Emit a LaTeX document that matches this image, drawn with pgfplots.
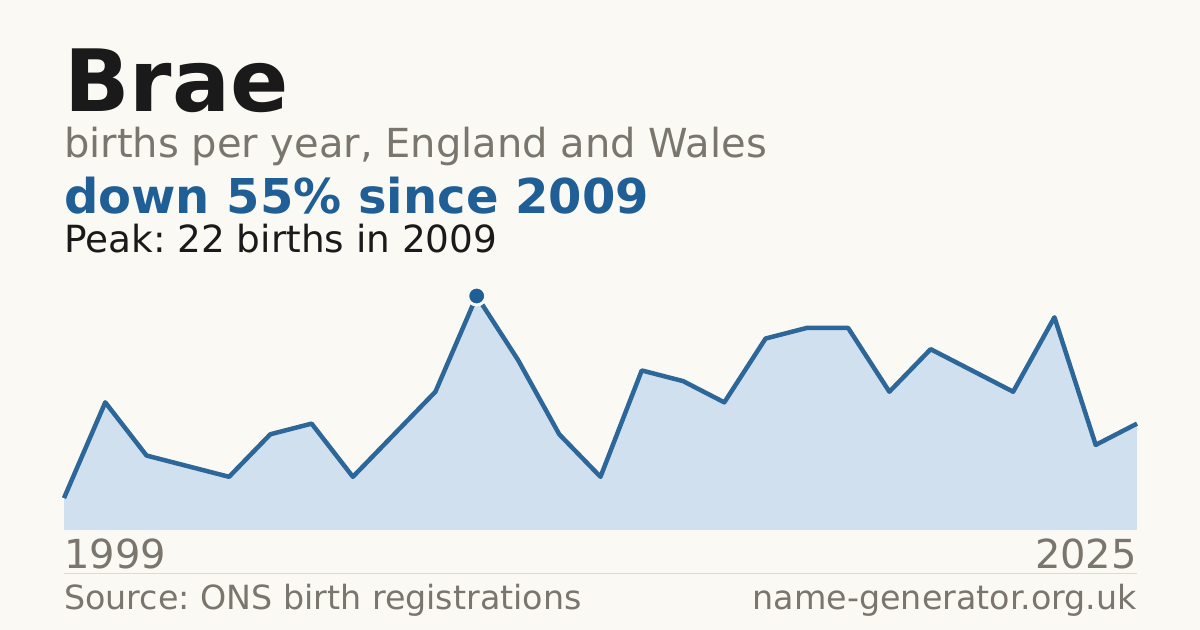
\documentclass[border=0pt]{standalone}
\usepackage{pgfplots}
\pgfplotsset{compat=1.18}
\usepackage{fontspec}
\setmainfont{DejaVu Sans}
\frenchspacing
\definecolor{bg}{HTML}{FAF9F4}
\definecolor{titlec}{HTML}{1A1A1A}
\definecolor{greyc}{HTML}{7A756D}
\definecolor{bluec}{HTML}{1F5F96}
\definecolor{linec}{HTML}{2D6799}
\definecolor{fillc}{HTML}{D0E0EF}
\definecolor{sepc}{HTML}{DDDAD2}
\begin{document}
\begin{tikzpicture}
\fill[bg] (0bp,0bp) rectangle (1200bp,630bp);
\node[anchor=base west,inner sep=0,text=titlec] at (64bp,518bp) {\fontsize{86bp}{96bp}\selectfont\bfseries Brae};
\node[anchor=base west,inner sep=0,text=greyc] at (64bp,472bp) {\fontsize{40bp}{48bp}\selectfont births per year, England and Wales};
\node[anchor=base west,inner sep=0,text=bluec] at (64bp,416bp) {\fontsize{48bp}{56bp}\selectfont\bfseries down 55\% since 2009};
\node[anchor=base west,inner sep=0,text=titlec] at (64bp,377bp) {\fontsize{37.4bp}{44bp}\selectfont Peak: 22 births in 2009};
\begin{axis}[at={(64bp,100bp)},anchor=south west,scale only axis,width=1073bp,height=234bp,
  xmin=1999,xmax=2025,ymin=0,ymax=22,hide axis,clip=false]
\addplot[fill=fillc,draw=none] coordinates {
(1999,3)(2000,12)(2001,7)(2002,6)(2003,5)(2004,9)(2005,10)(2006,5)(2007,9)(2008,13)
(2009,22)(2010,16)(2011,9)(2012,5)(2013,15)(2014,14)(2015,12)(2016,18)(2017,19)(2018,19)
(2019,13)(2020,17)(2021,15)(2022,13)(2023,20)(2024,8)(2025,10)} \closedcycle;
\addplot[draw=linec,line width=4.5bp,line join=round,mark=none] coordinates {
(1999,3)(2000,12)(2001,7)(2002,6)(2003,5)(2004,9)(2005,10)(2006,5)(2007,9)(2008,13)
(2009,22)(2010,16)(2011,9)(2012,5)(2013,15)(2014,14)(2015,12)(2016,18)(2017,19)(2018,19)
(2019,13)(2020,17)(2021,15)(2022,13)(2023,20)(2024,8)(2025,10)};
\addplot[only marks,mark=*,mark size=9bp,mark options={fill=bluec,draw=bg,line width=3bp}] coordinates {(2009,22)};
\end{axis}
\node[anchor=base west,inner sep=0,text=greyc] at (64bp,61bp) {\fontsize{40bp}{48bp}\selectfont 1999};
\node[anchor=base east,inner sep=0,text=greyc] at (1137bp,61bp) {\fontsize{40bp}{48bp}\selectfont 2025};
\draw[sepc,line width=1bp] (64bp,56bp) -- (1137bp,56bp);
\node[anchor=base west,inner sep=0,text=greyc] at (64bp,21bp) {\fontsize{33.3bp}{40bp}\selectfont Source: ONS birth registrations};
\node[anchor=base east,inner sep=0,text=greyc] at (1137bp,21bp) {\fontsize{33.3bp}{40bp}\selectfont name-generator.org.uk};
\end{tikzpicture}
\end{document}
